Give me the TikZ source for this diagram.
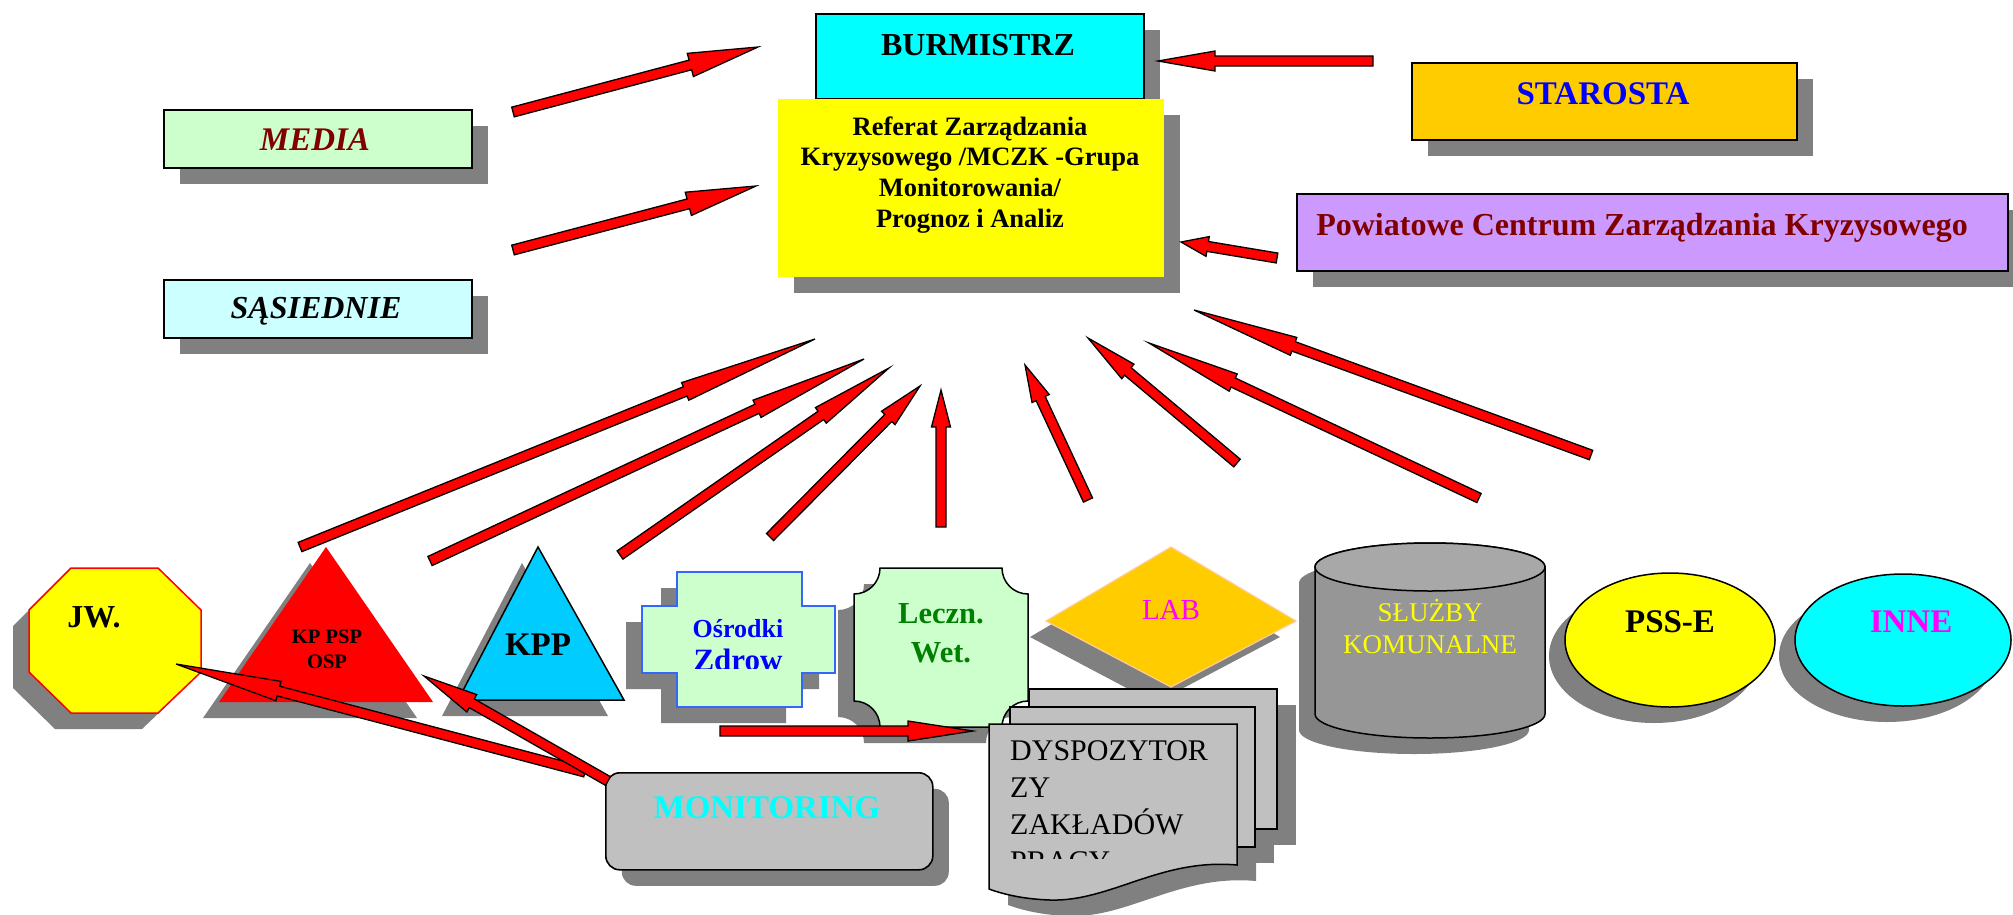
\documentclass[tikz,border=0pt]{standalone}
\usepackage{fontspec}
\setmainfont{Liberation Serif}
\usetikzlibrary{calc,shadows,shapes.geometric}
\definecolor{shadowgray}{HTML}{808080}
\definecolor{cyanbox}{HTML}{00FFFF}
\definecolor{starofill}{HTML}{FFCC00}
\definecolor{purplebox}{HTML}{CC99FF}
\definecolor{mediabg}{HTML}{CCFFCC}
\definecolor{sasbg}{HTML}{CCFFFF}
\definecolor{darkred}{HTML}{800000}
\definecolor{kppblue}{HTML}{00CCFF}
\definecolor{crossblue}{HTML}{3366FF}
\definecolor{textblue}{HTML}{0000FF}
\definecolor{wetgreen}{HTML}{008000}
\definecolor{labedge}{HTML}{FFCC99}
\definecolor{magtext}{HTML}{FF00FF}
\definecolor{cylbody}{HTML}{969696}
\definecolor{cyltop}{HTML}{A8A8A8}
\definecolor{silverbox}{HTML}{C0C0C0}
\definecolor{pyellow}{HTML}{FFFF00}
\definecolor{pred}{HTML}{FF0000}
\newcommand\szf[1]{\fontsize{#1pt}{#1pt}\selectfont}
\newcommand\blockarr[5]{%
  \coordinate (hb) at ($(#2)!#3!(#1)$);
  \draw[redarrow] ($(#1)!#4!90:(#2)$) -- ($(hb)!#4!90:(#2)$) -- ($(hb)!#5!90:(#2)$) -- (#2)
     -- ($(hb)!#5!-90:(#2)$) -- ($(hb)!#4!-90:(#2)$) -- ($(#1)!#4!-90:(#2)$) -- cycle;
}
\tikzset{
  shR/.style={drop shadow={shadow xshift=16pt,shadow yshift=-16pt,fill=shadowgray,opacity=1,shadow scale=1}},
  shL/.style={drop shadow={shadow xshift=-16pt,shadow yshift=-16pt,fill=shadowgray,opacity=1,shadow scale=1}},
  box/.style={draw=black,line width=1.6pt,inner sep=0pt,anchor=north west},
  txt/.style={inner sep=0pt,anchor=base},
  redarrow/.style={fill=pred,draw=black,line width=1.3pt,line join=miter},
  outl/.style={draw=black,line width=1.5pt},
}
\begin{document}
\begin{tikzpicture}[x=1pt,y=-1pt]
\useasboundingbox[fill=white] (0,0) rectangle (2013,914);

% ---------- top boxes ----------
\node[box,shR,fill=cyanbox,minimum width=328pt,minimum height=85pt] (burm) at (815,13) {};
\node[txt,font=\szf{32}\bfseries] (burmT) at (978,55) {BURMISTRZ};
\node[box,shR,draw=none,fill=pyellow,minimum width=386pt,minimum height=178pt] (ref) at (777,98) {};
\node[txt,font=\szf{26.5}\bfseries] (ref1) at (970,135) {Referat Zarządzania};
\node[txt,font=\szf{26.5}\bfseries] (ref2) at (970,165.7) {Kryzysowego /MCZK -Grupa};
\node[txt,font=\szf{26.5}\bfseries] (ref3) at (970,196.4) {Monitorowania/};
\node[txt,font=\szf{26.5}\bfseries] (ref4) at (970,227) {Prognoz i Analiz};

\node[box,shR,fill=starofill,minimum width=385pt,minimum height=77pt] (staro) at (1411,62) {};
\node[txt,font=\szf{33}\bfseries,text=textblue] (staroT) at (1603,104) {STAROSTA};
\node[box,shR,fill=purplebox,minimum width=711pt,minimum height=77pt] (pczk) at (1296,193) {};
\node[txt,font=\szf{32}\bfseries,text=darkred] (pczkT) at (1642,235) {Powiatowe Centrum Zarządzania Kryzysowego};

\node[box,shR,fill=mediabg,minimum width=308pt,minimum height=58pt] (media) at (163,109) {};
\node[txt,font=\szf{33}\bfseries\itshape,text=darkred] (mediaT) at (315,150) {MEDIA};
\node[box,shR,fill=sasbg,minimum width=308pt,minimum height=58pt] (sas) at (163,279) {};
\node[txt,font=\szf{32}\bfseries\itshape] (sasT) at (316,318) {SĄSIEDNIE};

% ---------- bottom shapes ----------
\path[shL,fill=pyellow,draw=pred,line width=1.5pt] (71,568) -- (158,568) -- (201,610) -- (201,672)
   -- (158,713) -- (71,713) -- (29,672) -- (29,610) -- cycle;
\node[txt,font=\szf{32}\bfseries] (jwT) at (94,627) {JW.};

\path[shL,fill=pred] (326,547) -- (433,702) -- (219,702) -- cycle;
\node[txt,font=\szf{20.5}\bfseries] (kp1) at (327,643) {KP PSP};
\node[txt,font=\szf{20.5}\bfseries] (kp2) at (327,668) {OSP};

\path[shL,fill=kppblue,outl] (538,547) -- (624,700) -- (458,700) -- cycle;
\node[txt,font=\szf{33}\bfseries] (kppT) at (538,655) {KPP};

\path[shL,fill=mediabg,draw=crossblue,line width=1.6pt] (677,572) -- (802,572) -- (802,606) -- (835,606)
   -- (835,673) -- (802,673) -- (802,707) -- (677,707) -- (677,673) -- (642,673) -- (642,606) -- (677,606) -- cycle;
\node[txt,font=\szf{26}\bfseries,text=textblue] (osr1) at (738,637) {Ośrodki};
\begin{scope}
  \clip (640,640) rectangle (840,668);
  \node[txt,font=\szf{31}\bfseries,text=textblue] (osr2) at (738,670.5) {Zdrow};
\end{scope}

\path[shL,fill=mediabg,outl] (880,568) -- (1002,568) .. controls (1002,582.4) and (1013.6,594) .. (1028,594)
   -- (1028,701) .. controls (1013.6,701) and (1002,712.6) .. (1002,727)
   -- (880,727) .. controls (880,712.6) and (868.4,701) .. (854,701)
   -- (854,594) .. controls (868.4,594) and (880,582.4) .. (880,568) -- cycle;
\node[txt,font=\szf{30.5}\bfseries,text=wetgreen] (lec1) at (941,623) {Leczn.};
\node[txt,font=\szf{30.5}\bfseries,text=wetgreen] (lec2) at (941,662) {Wet.};

\path[shL,fill=starofill,draw=labedge,line width=1.2pt] (1171,547) -- (1296,621) -- (1171,687) -- (1046,621) -- cycle;
\node[txt,font=\szf{29},text=magtext] (labT) at (1171,619) {LAB};

% stack of pages
\begin{scope}[shift={(19,16)}]
  \fill[shadowgray] (1029,689) rectangle (1277,829);
  \fill[shadowgray] (1010,707) rectangle (1255,847);
  \fill[shadowgray] (989,724) -- (1237,724) -- (1237,865) .. controls (1160,858) and (1110,902) .. (1050,900)
     .. controls (1020,899) and (1000,893) .. (989,889) -- cycle;
\end{scope}
\path[fill=silverbox,outl] (1029,689) rectangle (1277,829);
\path[fill=silverbox,outl] (1010,707) rectangle (1255,847);
\path[fill=silverbox,outl] (989,724) -- (1237,724) -- (1237,865) .. controls (1160,858) and (1110,902) .. (1050,900)
     .. controls (1020,899) and (1000,893) .. (989,889) -- cycle;
\node[txt,anchor=base west,font=\szf{30}] (dy1) at (1010,760) {DYSPOZYTOR};
\node[txt,anchor=base west,font=\szf{30}] (dy2) at (1010,797) {ZY};
\node[txt,anchor=base west,font=\szf{30}] (dy3) at (1010,834) {ZAKŁADÓW};
\begin{scope}
  \clip (995,840) rectangle (1235,858);
  \node[txt,anchor=base west,font=\szf{30}] (dy4) at (1010,871) {PRACY};
\end{scope}

% cylinder
\path[shL,fill=cylbody,outl] (1315,567) -- (1315,714) .. controls (1315,727.3) and (1366.5,738) .. (1430,738)
   .. controls (1493.5,738) and (1545,727.3) .. (1545,714) -- (1545,567)
   .. controls (1545,553.7) and (1493.5,543) .. (1430,543) .. controls (1366.5,543) and (1315,553.7) .. (1315,567) -- cycle;
\path[fill=cyltop,outl] (1430,567) ellipse [x radius=115pt, y radius=24pt];
\node[txt,font=\szf{27},text=pyellow] (sl1) at (1430,621) {SŁUŻBY};
\node[txt,font=\szf{27},text=pyellow] (sl2) at (1430,653) {KOMUNALNE};

\node[shL,ellipse,outl,fill=pyellow,minimum width=210pt,minimum height=134pt,inner sep=0pt] (psse) at (1670,640) {};
\node[txt,font=\szf{33}\bfseries] (psseT) at (1670,632) {PSS-E};
\node[shL,ellipse,outl,fill=cyanbox,minimum width=216pt,minimum height=132pt,inner sep=0pt] (inne) at (1903,640) {};
\node[txt,font=\szf{33}\bfseries,text=magtext] (inneT) at (1911,632) {INNE};

\node[box,shR,fill=silverbox,rounded corners=14pt,minimum width=327pt,minimum height=97pt] (mon) at (605,772) {};
\node[txt,font=\szf{33}\bfseries,text=cyanbox] (monT) at (767,818) {MONITORING};

% ---------- arrows ----------
\coordinate (a1t) at (513,112);  \coordinate (a1h) at (758,47);
\coordinate (a2t) at (513,250);  \coordinate (a2h) at (756,186);
\coordinate (a3t) at (1373,61);  \coordinate (a3h) at (1158,61);
\coordinate (a4t) at (1277,258); \coordinate (a4h) at (1181,242);
\coordinate (fAt) at (300,547);  \coordinate (fAh) at (815,339);
\coordinate (fBt) at (430,561);  \coordinate (fBh) at (864,359);
\coordinate (fCt) at (620,555);  \coordinate (fCh) at (889,368);
\coordinate (fDt) at (770,537);  \coordinate (fDh) at (920,386);
\coordinate (fEt) at (941,527);  \coordinate (fEh) at (941,390);
\coordinate (fFt) at (1088,500); \coordinate (fFh) at (1025,365);
\coordinate (fGt) at (1237,463); \coordinate (fGh) at (1088,338);
\coordinate (fHt) at (1479,498); \coordinate (fHh) at (1149,343);
\coordinate (fIt) at (1591,455); \coordinate (fIh) at (1194,310);
\coordinate (m1t) at (585,772);  \coordinate (m1h) at (176,664);
\coordinate (m2t) at (608,781);  \coordinate (m2h) at (424,676);
\coordinate (dst) at (720,731);  \coordinate (dsh) at (973,731);

\blockarr{a1t}{a1h}{70pt}{5pt}{12pt}
\blockarr{a2t}{a2h}{70pt}{5pt}{12pt}
\blockarr{a3t}{a3h}{57pt}{5pt}{10pt}
\blockarr{a4t}{a4h}{27pt}{5pt}{10pt}
\blockarr{fAt}{fAh}{140pt}{5pt}{9.5pt}
\blockarr{fBt}{fBh}{118pt}{5pt}{9.5pt}
\blockarr{fCt}{fCh}{83pt}{5pt}{9.5pt}
\blockarr{fDt}{fDh}{45pt}{5pt}{9.5pt}
\blockarr{fEt}{fEh}{37pt}{5pt}{9.5pt}
\blockarr{fFt}{fFh}{37pt}{5pt}{9.5pt}
\blockarr{fGt}{fGh}{52pt}{5pt}{9.5pt}
\blockarr{fHt}{fHh}{93pt}{5pt}{9.5pt}
\blockarr{fIt}{fIh}{106pt}{5pt}{9.5pt}
\blockarr{m1t}{m1h}{106pt}{5pt}{10pt}
\blockarr{m2t}{m2h}{55pt}{5pt}{10pt}
\blockarr{dst}{dsh}{65pt}{5pt}{10pt}
\end{tikzpicture}
\end{document}
